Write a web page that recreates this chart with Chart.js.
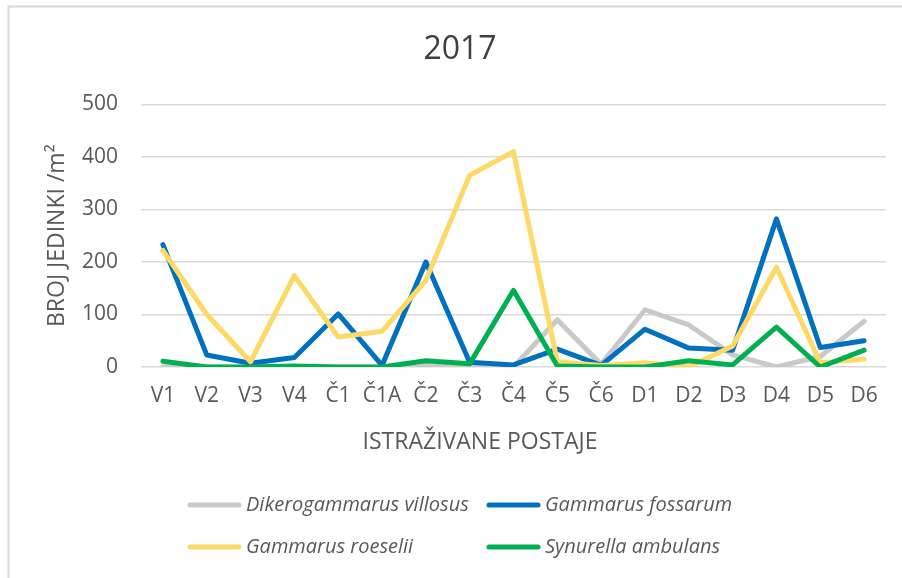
<!DOCTYPE html>
<html>
<head>
<meta charset="utf-8">
<script src="https://cdn.jsdelivr.net/npm/chart.js@4.4.1/dist/chart.umd.min.js"></script>
<style>
  html, body { margin: 0; padding: 0; background: #fff; }
</style>
</head>
<body>
<canvas id="myChart" width="902" height="578"></canvas>
<script>
// postaje (kategorije)
const postaje = ["V1", "V2", "V3", "V4", "Č1", "Č1A", "Č2", "Č3", "Č4", "Č5", "Č6", "D1", "D2", "D3", "D4", "D5", "D6"];

// broj jedinki po m2
const dikerogammarus = [0, 0, 0, 0, 0, 0, 3, 2, 0, 90, 5, 109, 80, 23, 0, 20, 87];
const fossarum = [233, 23, 7, 18, 101, 3, 200, 9, 4, 34, 3, 72, 36, 32, 282, 37, 50];
const roeselii = [222, 100, 10, 174, 57, 68, 165, 365, 410, 10, 3, 8, 0, 40, 190, 8, 15];
const synurella = [11, 0, 0, 2, 0, 0, 12, 6, 146, 2, 0, 0, 12, 4, 76, 0, 32];

const yMin = 0;
const yMax = 500;
const yStep = 100;

Chart.defaults.font.family = '"Open Sans", sans-serif';
Chart.defaults.color = '#595959';

// okvir, naslov osi x i legenda
const okvir = {
  id: 'okvir',
  beforeDraw(chart) {
    const c = chart.ctx;
    c.save();
    c.fillStyle = '#ffffff';
    c.fillRect(0, 0, chart.width, chart.height);
    c.strokeStyle = '#d9d9d9';
    c.lineWidth = 2;
    c.strokeRect(8.5, 6.5, chart.width + 20, chart.height + 20);
    c.restore();
  },
  afterDraw(chart) {
    const c = chart.ctx;
    c.save();
    c.fillStyle = '#595959';
    c.font = '23px "Open Sans"';
    c.textAlign = 'center';
    c.textBaseline = 'middle';
    c.fillText('ISTRAŽIVANE POSTAJE', 480, 442);

    chart.data.datasets.forEach(function (ds, i) {
      const x = 187 + (i % 2) * 299;
      const y = 505 + Math.floor(i / 2) * 42;
      c.strokeStyle = ds.borderColor;
      c.lineWidth = 5;
      c.lineCap = 'round';
      c.beginPath();
      c.moveTo(x + 3, y);
      c.lineTo(x + 52, y);
      c.stroke();
      c.font = 'italic 20px "Open Sans"';
      c.textAlign = 'left';
      c.fillText(ds.label, x + 59, y);
    });
    c.restore();
  }
};

const ctx = document.getElementById("myChart").getContext("2d");

const chart = new Chart(ctx, {
  type: 'line',
  data: {
    labels: postaje,
    datasets: [
      { label: 'Dikerogammarus villosus', data: dikerogammarus, borderColor: '#c9c9c9', order: 4 },
      { label: 'Gammarus fossarum', data: fossarum, borderColor: '#0070c0', order: 3 },
      { label: 'Gammarus roeselii', data: roeselii, borderColor: '#ffd966', order: 2 },
      { label: 'Synurella ambulans', data: synurella, borderColor: '#00b050', order: 1 }
    ]
  },
  options: {
    responsive: false,
    animation: false,
    devicePixelRatio: 1,
    layout: {
      padding: { left: 34, right: 16, top: 0, bottom: 151 }
    },
    elements: {
      line: { borderWidth: 5, tension: 0, fill: false, borderCapStyle: 'round', borderJoinStyle: 'round' },
      point: { radius: 0, hoverRadius: 0 }
    },
    scales: {
      y: {
        min: yMin,
        max: yMax,
        afterFit: function (scale) { scale.width = 107; },
        ticks: {
          stepSize: yStep,
          padding: 23,
          color: '#595959',
          font: { size: 21 }
        },
        grid: { color: '#d9d9d9', lineWidth: 1.5, drawTicks: false },
        border: { display: false },
        title: {
          display: true,
          text: 'BROJ JEDINKI /m²',
          color: '#595959',
          font: { size: 23 },
          padding: { top: 10, bottom: 0 }
        }
      },
      x: {
        offset: true,
        afterFit: function (scale) { scale.height = 60; },
        ticks: {
          padding: 16,
          color: '#595959',
          font: { size: 21 },
          maxRotation: 0,
          autoSkip: false
        },
        grid: { display: false, drawTicks: false },
        border: { display: false }
      }
    },
    plugins: {
      legend: { display: false },
      tooltip: { enabled: false },
      title: {
        display: true,
        text: '2017',
        color: '#404040',
        font: { size: 32, weight: 'normal' },
        padding: { top: 31, bottom: 35 }
      }
    }
  },
  plugins: [okvir]
});
</script>
</body>
</html>
